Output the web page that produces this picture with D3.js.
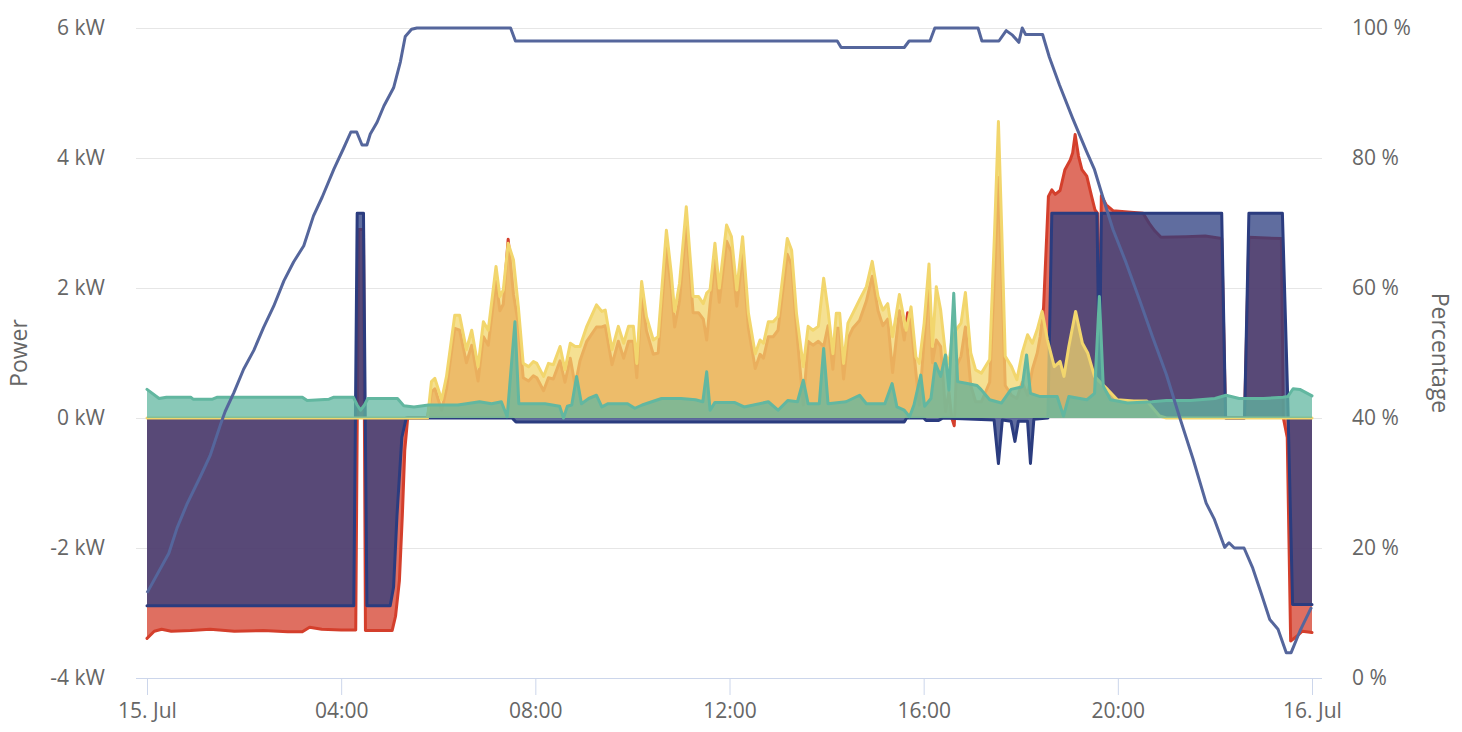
<!DOCTYPE html>
<html>
<head>
<meta charset="utf-8">
<script src="https://cdn.jsdelivr.net/npm/d3@7"></script>
<style>
  body { margin: 0; background: #fff; }
  svg { display: block; font-family: "Open Sans", sans-serif; }
  .tick text { fill: #666; font-size: 21px; font-family: "Open Sans", sans-serif; }
  .axis-title { fill: #666; font-size: 23px; font-family: "Open Sans", sans-serif; }
</style>
</head>
<body>
<svg id="chart" width="1462" height="732"></svg>
<script>
// axis ticks
var hourTicks = [0, 4, 8, 12, 16, 20, 24];
var hourLabels = ['15. Jul', '04:00', '08:00', '12:00', '16:00', '20:00', '16. Jul'];
var powerTicks = [-4, -2, 0, 2, 4, 6];
var percentTicks = [0, 20, 40, 60, 80, 100];

// [hour, kW] - grid (positive = export)
var gridPower = [
  [0,-3.39],[0.15,-3.28],[0.3,-3.25],[0.5,-3.28],[0.9,-3.27],[1.3,-3.25],[1.8,-3.28],[2.4,-3.27],
  [2.9,-3.29],[3.2,-3.29],[3.35,-3.22],[3.6,-3.25],[4.0,-3.26],[4.3,-3.26],[4.36,2.9],[4.46,2.9],
  [4.5,-3.27],[5.05,-3.27],[5.12,-3.05],[5.2,-2.5],[5.26,-1.5],[5.31,-0.5],[5.37,0],[5.78,0],
  [5.86,0.4],[5.93,0.45],[6.07,0.12],[6.17,0.45],[6.34,1.38],[6.44,1.35],[6.58,0.85],[6.69,1.12],
  [6.82,0.57],[6.93,1.25],[7.03,1.12],[7.19,2.1],[7.27,1.65],[7.34,1.75],[7.44,2.75],[7.55,1.9],
  [7.65,1.45],[7.75,0.62],[7.86,0.57],[7.96,0.65],[8.03,0.62],[8.17,0.42],[8.27,0.62],[8.37,0.6],
  [8.51,0.88],[8.61,0.55],[8.72,0.92],[8.82,0.5],[8.92,0.88],[9.06,1.18],[9.26,1.4],[9.37,1.4],
  [9.44,1.42],[9.58,0.82],[9.71,1.18],[9.82,0.92],[9.92,1.18],[10.02,1.18],[10.09,0.62],[10.19,1.9],
  [10.29,1.34],[10.43,0.98],[10.53,1.0],[10.70,2.62],[10.80,2.0],[10.87,1.4],[10.97,1.8],[11.11,3.0],
  [11.25,1.62],[11.36,1.62],[11.46,1.52],[11.53,1.2],[11.60,1.75],[11.70,2.45],[11.79,1.78],[11.94,2.72],
  [12.04,2.55],[12.15,1.72],[12.27,2.55],[12.39,1.38],[12.53,0.76],[12.63,0.98],[12.70,0.92],[12.80,1.25],
  [12.90,1.25],[13.00,1.35],[13.19,2.52],[13.28,2.35],[13.38,1.38],[13.52,0.2],[13.62,1.18],[13.72,1.12],
  [13.83,1.18],[13.94,1.1],[14.03,1.42],[14.13,0.75],[14.20,1.38],[14.27,1.38],[14.35,0.6],[14.44,1.22],
  [14.54,1.38],[14.68,1.5],[14.82,1.8],[14.94,2.18],[15.06,1.65],[15.16,1.42],[15.26,1.52],[15.36,0.7],
  [15.50,1.65],[15.60,1.2],[15.67,1.62],[15.74,1.45],[15.84,0.7],[15.91,0.2],[16.01,1.2],[16.11,2.1],
  [16.18,0.85],[16.26,1.2],[16.35,1.1],[16.45,0.1],[16.52,0.4],[16.58,0],[16.63,-0.12],[16.68,0.8],
  [16.77,0.95],[16.86,1.4],[16.97,0.5],[17.07,0.25],[17.19,0.25],[17.36,0.55],[17.46,2.2],[17.54,3.7],
  [17.61,2.2],[17.68,0.5],[17.81,0.35],[17.92,0.3],[18.03,0.55],[18.14,0.35],[18.24,0.75],[18.34,1.0],
  [18.40,1.25],[18.47,1.7],[18.57,3.41],[18.64,3.51],[18.71,3.44],[18.81,3.5],[18.91,3.82],[19.02,3.97],
  [19.07,4.08],[19.12,4.36],[19.19,4.03],[19.26,3.82],[19.36,3.72],[19.46,3.41],[19.53,3.2],[19.58,3.15],
  [19.62,0.6],[19.66,3.42],[19.76,3.28],[19.9,3.19],[20.52,3.15],[20.65,2.99],[20.76,2.88],[20.89,2.78],
  [21.4,2.79],[21.8,2.8],[22.14,2.76],[22.22,0],[22.61,0],[22.70,2.78],[23.37,2.76],[23.41,0],
  [23.49,-0.3],[23.56,-3.43],[23.7,-3.35],[23.8,-3.28],[24,-3.3]
];

// [hour, kW] - battery (positive = discharge)
var batteryPower = [
  [0,-2.89],[4.26,-2.89],[4.33,3.15],[4.46,3.15],[4.53,-2.89],[5.01,-2.89],[5.08,-2.6],[5.15,-1.5],
  [5.25,-0.3],[5.34,0],[7.52,0],[7.6,-0.06],[15.6,-0.06],[15.65,0],[16.0,0],[16.05,-0.04],[16.3,-0.04],
  [16.4,0],[17.45,-0.03],[17.54,-0.7],[17.62,-0.03],[17.8,-0.05],[17.88,-0.36],[17.95,-0.05],[18.14,-0.05],
  [18.2,-0.7],[18.27,-0.02],[18.56,0],[18.64,3.15],[19.57,3.15],[19.62,0.6],[19.66,3.15],[22.14,3.15],
  [22.22,0],[22.61,0],[22.70,3.15],[23.39,3.15],[23.5,0.3],[23.6,-2.87],[24,-2.87]
];

// [hour, kW] - solar production
var solarPower = [
  [0,0],[5.78,0],[5.86,0.56],[5.93,0.61],[6.07,0.28],[6.17,0.64],[6.34,1.58],[6.44,1.58],[6.58,1.05],
  [6.69,1.35],[6.82,0.79],[6.93,1.48],[7.03,1.35],[7.19,2.33],[7.27,1.87],[7.34,1.97],[7.44,2.69],
  [7.55,2.43],[7.65,1.71],[7.75,0.84],[7.86,0.79],[7.96,0.87],[8.03,0.84],[8.17,0.64],[8.27,0.84],
  [8.37,0.82],[8.51,1.10],[8.61,0.74],[8.72,1.15],[8.82,1.10],[8.92,1.10],[9.06,1.41],[9.26,1.74],
  [9.37,1.64],[9.44,1.66],[9.58,1.05],[9.71,1.41],[9.82,1.15],[9.92,1.41],[10.02,1.41],[10.09,0.84],
  [10.19,2.10],[10.29,1.56],[10.43,1.20],[10.53,1.25],[10.70,2.89],[10.80,2.23],[10.87,1.64],[10.97,2.07],
  [11.11,3.25],[11.25,1.87],[11.36,1.87],[11.46,1.76],[11.53,1.92],[11.60,1.97],[11.70,2.69],[11.79,2.0],
  [11.94,2.97],[12.04,2.79],[12.15,1.97],[12.27,2.79],[12.39,1.61],[12.53,0.99],[12.63,1.20],[12.70,1.15],
  [12.80,1.48],[12.90,1.48],[13.00,1.56],[13.19,2.76],[13.28,2.58],[13.38,1.61],[13.52,0.79],[13.62,1.41],
  [13.72,1.35],[13.83,1.41],[13.94,2.15],[14.03,1.66],[14.13,0.99],[14.20,1.61],[14.27,1.61],[14.35,0.84],
  [14.44,1.46],[14.54,1.61],[14.68,1.82],[14.82,2.02],[14.94,2.41],[15.06,1.87],[15.16,1.66],[15.26,1.76],
  [15.36,1.25],[15.50,1.90],[15.64,1.35],[15.74,1.71],[15.84,0.94],[15.91,0.84],[16.01,1.46],[16.11,2.37],
  [16.18,1.10],[16.26,2.02],[16.35,1.66],[16.45,0.98],[16.52,0.84],[16.58,1.2],[16.66,1.35],[16.77,1.46],
  [16.86,1.93],[16.97,1.0],[17.07,0.74],[17.19,0.69],[17.36,0.9],[17.46,2.85],[17.54,4.56],[17.61,2.85],
  [17.68,0.95],[17.81,0.79],[17.92,0.59],[18.03,1.0],[18.14,1.28],[18.24,1.15],[18.34,1.36],[18.44,1.64],
  [18.55,1.2],[18.69,0.79],[18.81,0.87],[18.89,0.64],[18.99,1.10],[19.13,1.64],[19.27,1.15],[19.38,1.0],
  [19.52,0.64],[19.65,0.54],[19.79,0.44],[19.99,0.28],[20.33,0.26],[20.6,0.26],[20.86,0.03],[21,0],[24,0]
];

// [hour, kW] - house consumption
var homePower = [
  [0,0.44],[0.25,0.30],[0.4,0.32],[0.9,0.32],[0.95,0.29],[1.35,0.29],[1.45,0.32],[3.2,0.32],[3.3,0.27],
  [3.75,0.29],[3.85,0.32],[4.25,0.32],[4.33,0.2],[4.4,0.12],[4.48,0.2],[4.55,0.3],[5.16,0.3],[5.29,0.19],
  [5.5,0.17],[5.8,0.2],[6.4,0.2],[6.58,0.22],[6.85,0.25],[7.1,0.22],[7.3,0.25],[7.42,0.02],[7.58,1.48],
  [7.66,0.22],[8.2,0.22],[8.5,0.18],[8.58,0],[8.66,0.18],[8.75,0.2],[8.85,0.64],[8.95,0.22],[9.1,0.3],
  [9.26,0.35],[9.37,0.17],[9.5,0.22],[9.9,0.22],[10.05,0.15],[10.2,0.2],[10.6,0.3],[11.0,0.3],[11.3,0.28],
  [11.45,0.25],[11.53,0.71],[11.6,0.12],[11.7,0.24],[12.1,0.24],[12.3,0.17],[12.8,0.25],[13.0,0.12],
  [13.2,0.27],[13.4,0.25],[13.52,0.58],[13.62,0.22],[13.85,0.22],[13.94,1.07],[14.03,0.22],[14.4,0.25],
  [14.68,0.35],[14.82,0.22],[15.2,0.22],[15.35,0.53],[15.45,0.17],[15.6,0.12],[15.71,0.02],[15.8,0.2],
  [15.94,0.66],[16.02,0.18],[16.15,0.3],[16.24,0.84],[16.35,0.64],[16.45,0.97],[16.52,0.43],[16.62,1.92],
  [16.7,0.56],[16.9,0.53],[17.1,0.5],[17.18,0.44],[17.36,0.28],[17.6,0.23],[17.8,0.44],[18.03,0.48],
  [18.12,0.97],[18.2,0.38],[18.4,0.33],[18.75,0.33],[18.88,0.03],[18.99,0.33],[19.36,0.28],[19.52,0.38],
  [19.62,1.87],[19.7,0.49],[19.85,0.28],[20.2,0.23],[20.7,0.25],[21.0,0.27],[21.5,0.27],[22.0,0.3],
  [22.23,0.35],[22.5,0.3],[23.0,0.3],[23.4,0.32],[23.5,0.33],[23.61,0.45],[23.75,0.44],[24,0.34]
];

// [hour, %] - battery state of charge
var batterySoc = [
  [0,13.1],[0.45,19.2],[0.62,23.1],[0.82,26.7],[1.10,31],[1.30,34.2],[1.51,38.9],[1.61,41],[1.79,43.9],
  [1.99,47.5],[2.20,50.4],[2.40,53.9],[2.61,57.2],[2.82,61.1],[3.02,64],[3.23,66.5],[3.43,71.1],[3.61,74],
  [3.85,78.3],[4.05,81.5],[4.2,84],[4.32,84],[4.43,82],[4.53,82],[4.60,83.7],[4.74,85.5],[4.88,88],
  [5.08,90.8],[5.22,94.8],[5.32,98.7],[5.45,99.8],[5.56,100],[7.49,100],[7.59,98],[14.22,98],[14.3,97],
  [15.6,97],[15.7,98],[16.13,98],[16.23,100],[17.12,100],[17.2,98],[17.55,98],[17.70,99.6],[17.83,98.9],
  [17.96,97.8],[18.03,100],[18.1,99],[18.45,99],[18.59,95.5],[18.80,91.2],[19.07,86.1],[19.35,81.1],
  [19.52,78.2],[19.69,74],[19.90,69],[20.17,63.9],[20.45,58.1],[20.72,52.4],[21.0,46.7],[21.27,40.2],
  [21.55,33.7],[21.82,26.9],[21.99,24.4],[22.2,20.1],[22.29,20.8],[22.4,20],[22.6,20],[22.78,16.9],
  [22.96,12.9],[23.13,9],[23.3,7.5],[23.47,3.9],[23.57,3.9],[23.75,7.2],[23.99,10.9]
];

// layout
var plot = {left: 136, right: 1322, top: 28, bottom: 678};

var x = d3.scaleLinear().domain([0, 24]).range([147, 1312]);
var yPower = d3.scaleLinear().domain([-4, 6]).range([plot.bottom, plot.top]);
var yPct = d3.scaleLinear().domain([0, 100]).range([plot.bottom, plot.top]);

var svg = d3.select('#chart');

// strip d3's default axis font so the css applies
function plainAxis(g) {
  g.attr('font-family', null).attr('font-size', null);
  g.select('.domain').remove();
}

// grid lines
var grid = svg.append('g')
  .attr('transform', 'translate(' + plot.left + ',0)')
  .call(d3.axisLeft(yPower).tickValues(powerTicks)
    .tickSize(-(plot.right - plot.left)).tickFormat(''))
  .call(plainAxis);
grid.selectAll('line').attr('stroke', '#e6e6e6');

// left labels
svg.append('g')
  .attr('transform', 'translate(105,0)')
  .call(d3.axisLeft(yPower).tickValues(powerTicks).tickSize(0).tickPadding(0)
    .tickFormat(function(d) { return d + ' kW'; }))
  .call(plainAxis);

// right labels
svg.append('g')
  .attr('transform', 'translate(1352,0)')
  .call(d3.axisRight(yPct).tickValues(percentTicks).tickSize(0).tickPadding(0)
    .tickFormat(function(d) { return d + ' %'; }))
  .call(plainAxis);

// bottom axis
svg.append('line')
  .attr('x1', plot.left).attr('x2', plot.right)
  .attr('y1', plot.bottom + 0.5).attr('y2', plot.bottom + 0.5)
  .attr('stroke', '#ccd6eb');
var bottomAxis = svg.append('g')
  .attr('transform', 'translate(0,' + plot.bottom + ')')
  .call(d3.axisBottom(x).tickValues(hourTicks).tickSize(17).tickPadding(8)
    .tickFormat(function(d, i) { return hourLabels[i]; }))
  .call(plainAxis);
bottomAxis.selectAll('line').attr('stroke', '#ccd6eb');

// axis titles
svg.append('text')
  .attr('class', 'axis-title')
  .attr('transform', 'translate(27,353) rotate(-90)')
  .attr('text-anchor', 'middle')
  .text('Power');
svg.append('text')
  .attr('class', 'axis-title')
  .attr('transform', 'translate(1432,353) rotate(90)')
  .attr('text-anchor', 'middle')
  .text('Percentage');

// series
var area = d3.area()
  .x(function(d) { return x(d[0]); })
  .y0(yPower(0))
  .y1(function(d) { return yPower(d[1]); });
var line = d3.line()
  .x(function(d) { return x(d[0]); })
  .y(function(d) { return yPower(d[1]); });

function drawSeries(data, color) {
  var g = svg.append('g');
  g.append('path')
    .datum(data)
    .attr('d', area)
    .attr('fill', color)
    .attr('fill-opacity', 0.75);
  g.append('path')
    .datum(data)
    .attr('d', line)
    .attr('fill', 'none')
    .attr('stroke', color)
    .attr('stroke-width', 3)
    .attr('stroke-linejoin', 'round')
    .attr('stroke-linecap', 'round');
}

drawSeries(gridPower, '#d43f2c');
drawSeries(batteryPower, '#2b3c7f');
drawSeries(solarPower, '#f2d66d');
drawSeries(homePower, '#62b7a0');

// state of charge line
svg.append('path')
  .datum(batterySoc)
  .attr('d', d3.line()
    .x(function(d) { return x(d[0]); })
    .y(function(d) { return yPct(d[1]); }))
  .attr('fill', 'none')
  .attr('stroke', '#55669c')
  .attr('stroke-width', 3)
  .attr('stroke-linejoin', 'round');
</script>
</body>
</html>
